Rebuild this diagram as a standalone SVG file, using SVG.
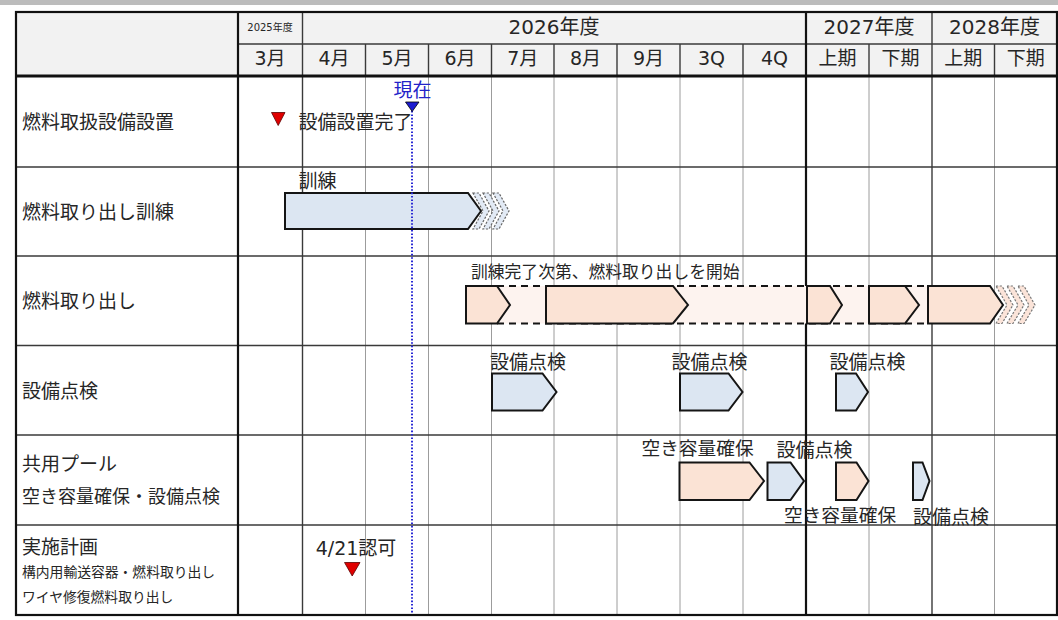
<svg xmlns="http://www.w3.org/2000/svg" width="1058" height="620" viewBox="0 0 1058 620">
<style>
.t{font-family:"DejaVu Sans","Noto Sans CJK JP",sans-serif;fill:#262626}
.j{font-family:"Noto Sans CJK JP","Noto Sans",sans-serif;fill:#262626}
.h{font-size:20px;text-anchor:middle}
.m{font-size:19px;text-anchor:middle}
.lbl{font-size:19px}
.gl{stroke:#9c9c9c;stroke-width:1}
.gd{stroke:#3a3a3a;stroke-width:1.4}
.gk{stroke:#111;stroke-width:2.2}
.bb{fill:#dce6f2;stroke:#151515;stroke-width:2}
.ob{fill:#fbe3d5;stroke:#151515;stroke-width:2}
.cb{fill:#e2eaf5;stroke:#666;stroke-width:1.2;stroke-dasharray:2.2 1.5}
.co{fill:#fbe4d9;stroke:#777;stroke-width:1.2;stroke-dasharray:2.2 1.5}
.red{fill:#e00000;stroke:#5a0000;stroke-width:0.8}
</style>
<rect x="0" y="0" width="1058" height="620" fill="#ffffff"/>
<rect x="0" y="0" width="1058" height="5" fill="#bcbcbc"/>

<g id="grid">
  <rect x="16" y="12" width="1041" height="64" fill="#f2f2f2"/>
  <g class="gd">
    <line x1="365.5" y1="44" x2="365.5" y2="76"/>
    <line x1="428.5" y1="44" x2="428.5" y2="76"/>
    <line x1="491.5" y1="44" x2="491.5" y2="76"/>
    <line x1="554" y1="44" x2="554" y2="76"/>
    <line x1="617" y1="44" x2="617" y2="76"/>
    <line x1="680" y1="44" x2="680" y2="76"/>
    <line x1="743" y1="44" x2="743" y2="76"/>
    <line x1="869" y1="44" x2="869" y2="76"/>
    <line x1="994.5" y1="44" x2="994.5" y2="76"/>
    <line x1="238" y1="44" x2="1057" y2="44"/>
  </g>
  <g class="gl">
    <line x1="365.5" y1="76" x2="365.5" y2="615"/>
    <line x1="428.5" y1="76" x2="428.5" y2="615"/>
    <line x1="491.5" y1="76" x2="491.5" y2="615"/>
    <line x1="554" y1="76" x2="554" y2="615"/>
    <line x1="617" y1="76" x2="617" y2="615"/>
    <line x1="680" y1="76" x2="680" y2="615"/>
    <line x1="743" y1="76" x2="743" y2="615"/>
    <line x1="869" y1="76" x2="869" y2="615"/>
    <line x1="994.5" y1="76" x2="994.5" y2="615"/>
  </g>
  <g class="gd">
    <line x1="302.5" y1="12" x2="302.5" y2="615"/>
    <line x1="932" y1="12" x2="932" y2="615"/>
    <line x1="16" y1="167" x2="1057" y2="167"/>
    <line x1="16" y1="256" x2="1057" y2="256"/>
    <line x1="16" y1="345.5" x2="1057" y2="345.5"/>
    <line x1="16" y1="435" x2="1057" y2="435"/>
    <line x1="16" y1="525" x2="1057" y2="525"/>
  </g>
  <g class="gk">
    <line x1="238" y1="12" x2="238" y2="615"/>
    <line x1="806" y1="12" x2="806" y2="615"/>
    <line x1="16" y1="76" x2="1057" y2="76" stroke-width="3"/>
    <rect x="16" y="12" width="1041" height="603" fill="none"/>
  </g>
</g>

<g id="header">
  <text class="t" x="270" y="31" font-size="10" text-anchor="middle">2025年度</text>
  <text class="t h" x="554" y="33.5">2026年度</text>
  <text class="t h" x="869" y="33.5">2027年度</text>
  <text class="t h" x="994.5" y="33.5">2028年度</text>
  <text class="t m" x="270" y="64.5">3月</text>
  <text class="t m" x="334" y="64.5">4月</text>
  <text class="t m" x="397" y="64.5">5月</text>
  <text class="t m" x="460" y="64.5">6月</text>
  <text class="t m" x="522.7" y="64.5">7月</text>
  <text class="t m" x="585.5" y="64.5">8月</text>
  <text class="t m" x="648.5" y="64.5">9月</text>
  <text class="t m" x="711.5" y="64.5">3Q</text>
  <text class="t m" x="774.5" y="64.5">4Q</text>
  <text class="t m" x="837.5" y="64.5">上期</text>
  <text class="t m" x="900.5" y="64.5">下期</text>
  <text class="t m" x="963.2" y="64.5">上期</text>
  <text class="t m" x="1025.7" y="64.5">下期</text>
</g>

<g id="labels">
  <text class="j lbl" x="22" y="129">燃料取扱設備設置</text>
  <text class="j lbl" x="22" y="219">燃料取り出し訓練</text>
  <text class="j lbl" x="22" y="307.5">燃料取り出し</text>
  <text class="j lbl" x="22" y="397.5">設備点検</text>
  <text class="j lbl" x="22" y="471">共用プール</text>
  <text class="j" x="22" y="502.5" font-size="18">空き容量確保・設備点検</text>
  <text class="j lbl" x="22" y="553.5">実施計画</text>
  <text class="j" x="22" y="577.3" font-size="13.8">構内用輸送容器・燃料取り出し</text>
  <text class="j" x="22" y="601.7" font-size="13.8">ワイヤ修復燃料取り出し</text>
</g>

<g id="row-install">
  <polygon class="red" points="271.5,112.5 285,112.5 278.2,125.5"/>
  <text class="j lbl" x="298.5" y="129">設備設置完了</text>
</g>

<g id="row-training">
  <text class="j lbl" x="298.5" y="188">訓練</text>
  <polygon class="cb" points="493,193 499,193 509,211 499,229 493,229 503,211"/>
  <polygon class="cb" points="483,193 489,193 499,211 489,229 483,229 493,211"/>
  <polygon class="cb" points="473,193 479,193 489,211 479,229 473,229 483,211"/>
  <polygon class="bb" points="285,193 468,193 481,211 468,229 285,229"/>
</g>

<g id="row-removal">
  <text class="j" x="471" y="278" font-size="16.8">訓練完了次第、燃料取り出しを開始</text>
  <rect x="490" y="286" width="440" height="37.5" fill="#fdf3ef"/>
  <g stroke="#151515" stroke-width="2" stroke-dasharray="7 5" fill="none">
    <line x1="497" y1="286" x2="928" y2="286"/>
    <line x1="497" y1="323.5" x2="928" y2="323.5"/>
  </g>
  <polygon class="co" points="1018,286 1024,286 1035,305 1024,323.5 1018,323.5 1029,305"/>
  <polygon class="co" points="1007,286 1013,286 1024,305 1013,323.5 1007,323.5 1018,305"/>
  <polygon class="co" points="996,286 1002,286 1013,305 1002,323.5 996,323.5 1007,305"/>
  <polygon class="ob" points="466,286 497,286 510,305 497,323.5 466,323.5"/>
  <polygon class="ob" points="546,286 673,286 688,305 673,323.5 546,323.5"/>
  <polygon class="ob" points="807,286 830,286 842,305 830,323.5 807,323.5"/>
  <polygon class="ob" points="869,286 905,286 919,305 905,323.5 869,323.5"/>
  <polygon class="ob" points="928,286 990,286 1003,305 990,323.5 928,323.5"/>
</g>

<g id="row-inspection">
  <text class="j lbl" x="490" y="368.5">設備点検</text>
  <text class="j lbl" x="671.5" y="368.5">設備点検</text>
  <text class="j lbl" x="829.5" y="368.5">設備点検</text>
  <polygon class="bb" points="492,373.5 542.5,373.5 556.5,392 542.5,410.5 492,410.5"/>
  <polygon class="bb" points="680,373.5 728.5,373.5 742.5,392 728.5,410.5 680,410.5"/>
  <polygon class="bb" points="836,373.5 856,373.5 868,392 856,410.5 836,410.5"/>
</g>

<g id="row-pool">
  <text class="j" x="641.5" y="455" font-size="18.7">空き容量確保</text>
  <text class="j lbl" x="776.5" y="457">設備点検</text>
  <text class="j" x="784" y="522" font-size="18.7">空き容量確保</text>
  <text class="j lbl" x="913" y="523.5">設備点検</text>
  <polygon class="ob" points="679.5,462.5 749.5,462.5 764,481 749.5,500 679.5,500"/>
  <polygon class="bb" points="767.5,462.5 790.5,462.5 804,481 790.5,500 767.5,500"/>
  <polygon class="ob" points="836,462.5 856.5,462.5 868.5,481 856.5,500 836,500"/>
  <polygon class="bb" points="913,462.5 922.5,462.5 929.5,481 922.5,500 913,500"/>
</g>

<g id="row-plan">
  <text class="t" x="356" y="555" font-size="19" text-anchor="middle">4/21認可</text>
  <polygon class="red" points="344.5,562.5 360,562.5 352.2,576"/>
</g>

<g id="connectors">
  <line x1="412" y1="111" x2="412" y2="614" stroke="#2a2ad4" stroke-width="2" stroke-dasharray="1.6 1.8"/>
</g>

<g id="now-marker">
  <text class="j" x="412.5" y="97" font-size="19" text-anchor="middle" style="fill:#2323c8">現在</text>
  <polygon points="405.5,102 419,102 412.2,111.5" fill="#1b1bd0" stroke="#000" stroke-width="0.8"/>
</g>
</svg>
